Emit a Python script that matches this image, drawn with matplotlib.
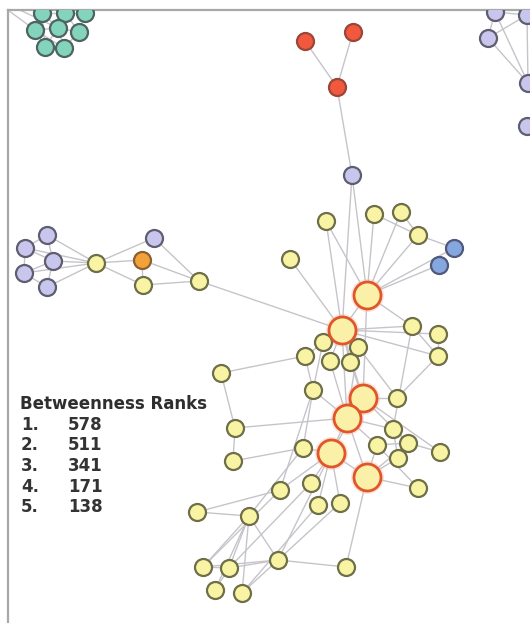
import numpy as np
import matplotlib
matplotlib.use("Agg")
import matplotlib.pyplot as plt
from matplotlib.collections import LineCollection

# node positions (pixel units, y grows downward)
node_x = [42, 65, 85, 35, 58, 79, 45, 64,            # teal 0-7
          305, 353, 337,                              # red 8-10
          352,                                        # purple 11
          495, 527, 488, 528, 527,                    # purple top right 12-16
          47, 25, 53, 24, 47,                         # purple left 17-21
          96, 154, 142, 143, 199,                     # 22-26
          326, 374, 401, 418, 454, 439, 290,          # 27-33
          367, 342,                                   # big 34-35
          412, 438, 438, 323, 358, 330, 350, 305,     # 36-43
          221,                                        # 44
          363, 347,                                   # big 45-46
          397, 313,                                   # 47-48
          331, 367,                                   # big 49-50
          393, 408, 377, 398, 440, 303, 418, 280, 311, 318, 340,   # 51-61
          233, 235, 197, 249, 278, 346, 203, 229, 215, 242,        # 62-71
          -14]                                                     # 72 teal, off view
node_y = [13, 13, 13, 30, 28, 32, 47, 48,
          41, 32, 87,
          175,
          12, 15, 38, 83, 126,
          235, 248, 261, 273, 287,
          263, 238, 260, 285, 281,
          221, 214, 212, 235, 248, 265, 259,
          295, 330,
          326, 334, 356, 342, 347, 361, 362, 356,
          373,
          398, 418,
          398, 390,
          453, 477,
          429, 443, 445, 458, 452, 448, 488, 490, 483, 505, 503,
          461, 428, 512, 516, 560, 567, 567, 568, 590, 593,
          -6]
node_group = (["teal"] * 8 + ["red"] * 3 + ["purple"] * 6 + ["purple"] * 5 +
              ["yellow", "purple", "orange", "yellow", "yellow"] +
              ["yellow", "yellow", "yellow", "yellow", "blue", "blue", "yellow"] +
              ["big", "big"] + ["yellow"] * 9 + ["big", "big"] + ["yellow"] * 2 +
              ["big", "big"] + ["yellow"] * 21 + ["teal"])

edges = [(0, 1), (1, 2), (0, 3), (0, 4), (1, 4), (1, 5), (2, 5), (3, 4), (4, 5), (3, 6),
         (4, 6), (4, 7), (5, 7), (6, 7), (3, 7), (0, 6), (72, 0), (72, 3), (72, 4),
         (8, 10), (9, 10), (10, 11), (11, 34), (11, 35),
         (12, 14), (12, 13), (13, 14), (14, 15), (12, 15), (13, 15),
         (17, 22), (18, 22), (19, 22), (20, 22), (21, 22), (17, 19), (18, 19), (19, 20),
         (19, 21), (17, 18), (20, 21), (18, 20),
         (22, 23), (22, 24), (22, 25), (23, 26), (24, 26), (25, 26), (24, 25), (26, 35),
         (27, 34), (28, 34), (29, 34), (30, 34), (31, 34), (32, 34), (28, 30), (29, 30),
         (30, 31), (33, 35), (27, 35),
         (34, 35), (34, 36), (35, 36), (35, 37), (35, 38), (35, 39), (35, 40), (35, 41),
         (35, 42), (35, 43), (36, 38), (37, 38), (36, 51), (38, 47), (43, 44),
         (34, 45), (35, 45), (35, 46), (45, 46), (45, 47), (46, 48), (46, 49), (46, 50),
         (46, 51), (46, 53), (45, 52), (45, 55), (49, 56), (49, 59), (49, 60), (49, 61),
         (49, 58), (50, 54), (50, 57), (50, 53), (50, 67), (50, 52), (52, 55), (51, 54),
         (41, 46), (42, 45), (39, 48), (40, 46), (43, 48), (48, 56), (40, 47),
         (44, 63), (63, 62), (63, 46), (62, 56), (64, 65), (65, 56), (65, 66), (65, 68),
         (65, 69), (65, 70), (65, 71), (66, 67), (66, 69), (66, 68), (66, 61), (68, 69),
         (70, 69), (71, 66), (69, 59), (68, 58), (71, 60), (66, 49), (64, 58),
         (49, 50), (45, 49), (48, 58), (52, 53), (53, 57)]

rank_labels = ["1.", "2.", "3.", "4.", "5."]
rank_values = [578, 511, 341, 171, 138]

fill = {"teal": "#84d4bc", "red": "#f2583e", "purple": "#c9c6ee", "orange": "#f2a238",
        "yellow": "#f8f4a4", "blue": "#86a6e0", "big": "#fbf0a8"}
edge = {"teal": "#4e6460", "red": "#9a4638", "purple": "#5e5e70", "orange": "#8a6030",
        "yellow": "#6e6e48", "blue": "#505a78", "big": "#e0562a"}
radius = {"big": 13.5}

fig = plt.figure(figsize=(5.30, 6.23), dpi=100)
ax = fig.add_axes([8 / 530, 0, 522 / 530, 613 / 623])
ax.set_xlim(8, 530)
ax.set_ylim(623, 10)
ax.set_xticks([])
ax.set_yticks([])
for s in ["right", "bottom"]:
    ax.spines[s].set_visible(False)
for s in ["left", "top"]:
    ax.spines[s].set_color("#a8a8a8")
    ax.spines[s].set_linewidth(1.6)

xs = np.array(node_x, dtype=float)
ys = np.array(node_y, dtype=float)
segs = [[(xs[a], ys[a]), (xs[b], ys[b])] for a, b in edges]
ax.add_collection(LineCollection(segs, colors="#c6c4ca", linewidths=1.0, zorder=1))

px2pt = 72 / fig.dpi
groups = np.array(node_group)
big = groups == "big"
# soft glow around the high-betweenness nodes
ax.scatter(xs[big], ys[big], s=(2 * 16.5 * px2pt) ** 2, color="#f6b49a", alpha=0.35,
           linewidths=0, zorder=2)
for g in fill:
    m = groups == g
    r = radius.get(g, 8.5)
    ax.scatter(xs[m], ys[m], s=(2 * r * px2pt) ** 2, c=fill[g], edgecolors=edge[g],
               linewidths=2.0 if g == "big" else 1.6, zorder=3)

ax.text(20, 404, "Betweenness Ranks", fontsize=12, fontweight="bold", color="#2e2e2e",
        va="center", ha="left")
for i, (lab, val) in enumerate(zip(rank_labels, rank_values)):
    y = 425 + i * 20.5
    ax.text(21, y, lab, fontsize=12, fontweight="bold", color="#333333", va="center")
    ax.text(68, y, str(val), fontsize=12, fontweight="bold", color="#333333", va="center")

fig.savefig("out.png", dpi=100)
